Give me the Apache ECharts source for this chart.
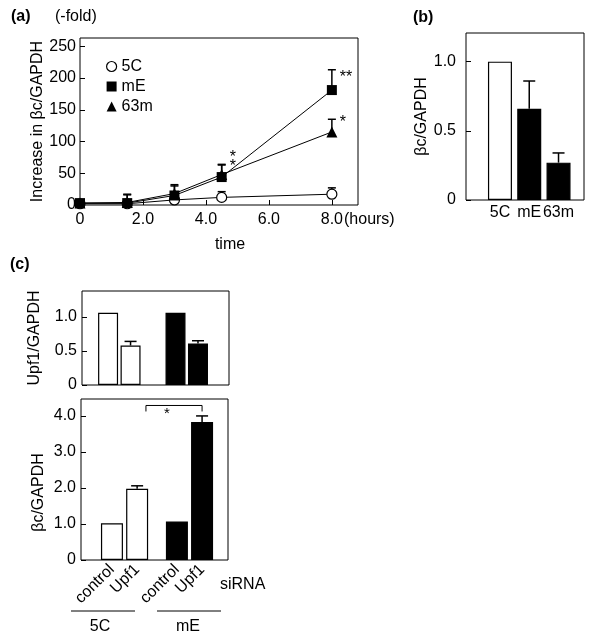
<!DOCTYPE html>
<html><head><meta charset="utf-8">
<script src="https://cdn.jsdelivr.net/npm/echarts@6/dist/echarts.min.js"></script>
<style>html,body{margin:0;padding:0;background:#fff}#c{width:600px;height:640px}</style>
</head><body><div id="c"></div>
<script>
// ---------- data ----------
// (a) time course
const aTime = [0, 1.5, 3, 4.5, 8];
const a5C = [2, 2, 8, 12, 17];
const a5CErr = [4, 5, 10, 21, 27];
const amE = [3, 3, 15, 44, 181];
const amEErr = [5, 16, 30, 63, 213];
const a63m = [3, 4, 18, 48, 115];
const a63mErr = [5, 17, 32, 64, 135];
const aStars = [[4.5, 74, '*'], [4.5, 61, '*'], [8, 200, '**'], [8, 130, '*']];
const aXTicks = [0, 2, 4, 6, 8];
const aXTickLabels = ['0', '2.0', '4.0', '6.0', '8.0'];
const aYTicks = [0, 50, 100, 150, 200, 250];
// (b)
const bCats = ['5C', 'mE', '63m'];
const bVals = [1.0, 0.66, 0.27];
const bErr = [null, 0.86, 0.34];
const bYTicks = [0, 0.5, 1.0];
// (c)
const cCats = ['control', 'Upf1', 'control', 'Upf1'];
const cGroups = ['5C', '5C', 'mE', 'mE'];
const cUpf1 = [1.06, 0.58, 1.06, 0.61];
const cUpf1Err = [null, 0.64, null, 0.65];
const cBc = [1.02, 1.98, 1.07, 3.83];
const cBcErr = [null, 2.06, null, 4.0];
const cTopYTicks = [0, 0.5, 1.0];
const cBotYTicks = [0, 1.0, 2.0, 3.0, 4.0];

// ---------- helpers ----------
const FONT = "'Liberation Sans', Arial, sans-serif";
const FS = 16;
const fmt1 = v => (v === 0 ? '0' : v.toFixed(1));
function errSeries(xi, yi, data, capW) {
  return {
    type: 'custom', xAxisIndex: xi, yAxisIndex: yi, z: 3,
    dimensions: ['x', 'y', 't'], encode: { x: 0, y: [1, 2] },
    data: data,
    renderItem: function (params, api) {
      const p0 = api.coord([api.value(0), api.value(1)]);
      const p1 = api.coord([api.value(0), api.value(2)]);
      return { type: 'group', children: [
        { type: 'line', shape: { x1: p0[0], y1: p0[1], x2: p1[0], y2: p1[1] }, style: { stroke: '#000', lineWidth: 1.5 } },
        { type: 'line', shape: { x1: p1[0] - capW / 2, y1: p1[1], x2: p1[0] + capW / 2, y2: p1[1] }, style: { stroke: '#000', lineWidth: 1.5 } }
      ] };
    }
  };
}
function groupColor(g) { return g === '5C' ? '#fff' : '#000'; }
// x positions of the four (c) bars: two groups separated by a gap
function cPos(i, gap) { return i + (i >= 2 ? gap : 0); }

const axisLabelStyle = { color: '#000', fontSize: FS, fontFamily: FONT };
function yAxisCommon(gi, min, max, ticks, name, gap, margin, pad) {
  return {
    type: 'value', gridIndex: gi, min: min, max: max,
    axisLine: { show: false, onZero: false }, splitLine: { show: false },
    axisTick: { show: true, inside: true, length: 5, customValues: ticks, lineStyle: { color: '#000' } },
    axisLabel: Object.assign({ customValues: ticks, formatter: v => (gi === 0 ? String(v) : fmt1(v)), margin: margin }, axisLabelStyle),
    name: name, nameLocation: 'middle', nameRotate: 90, nameGap: gap,
    nameTextStyle: { color: '#000', fontSize: FS, fontFamily: FONT, padding: pad || 0 }
  };
}

const cTopGap = 1.0, cBotGap = 0.58;

const option = {
  animation: false,
  backgroundColor: '#fff',
  textStyle: { fontFamily: FONT },
  grid: [
    { left: 80, top: 38, width: 278, height: 167, show: true, borderColor: '#000', borderWidth: 1, backgroundColor: 'transparent' },
    { left: 466, top: 33, width: 118, height: 167, show: true, borderColor: '#000', borderWidth: 1, backgroundColor: 'transparent' },
    { left: 82, top: 291, width: 147, height: 94, show: true, borderColor: '#000', borderWidth: 1, backgroundColor: 'transparent' },
    { left: 81, top: 399, width: 147, height: 161, show: true, borderColor: '#000', borderWidth: 1, backgroundColor: 'transparent' }
  ],
  xAxis: [
    { type: 'value', gridIndex: 0, min: 0, max: 8.83,
      axisLine: { show: false, onZero: false }, splitLine: { show: false },
      axisTick: { show: true, inside: true, length: 5, customValues: aXTicks, lineStyle: { color: '#000' } },
      axisLabel: Object.assign({ customValues: aXTicks, formatter: v => aXTickLabels[aXTicks.indexOf(v)], margin: 7 }, axisLabelStyle) },
    { type: 'value', gridIndex: 1, min: -1.16, max: 2.87,
      axisLine: { show: false, onZero: false }, splitLine: { show: false }, axisTick: { show: false },
      axisLabel: Object.assign({ customValues: [0, 1, 2], formatter: v => bCats[Math.round(v)], margin: 5 }, axisLabelStyle) },
    { type: 'value', gridIndex: 2, min: -1.16, max: 5.38,
      axisLine: { show: false, onZero: false }, splitLine: { show: false }, axisTick: { show: false }, axisLabel: { show: false } },
    { type: 'value', gridIndex: 3, min: -1.23, max: 4.61,
      axisLine: { show: false, onZero: false }, splitLine: { show: false }, axisTick: { show: false },
      axisLabel: Object.assign({ customValues: cCats.map((_, i) => cPos(i, cBotGap)), rotate: 45, margin: 7,
        formatter: v => { const i = [0, 1, 2, 3].find(k => Math.abs(cPos(k, cBotGap) - v) < 1e-6); return cCats[i]; } }, axisLabelStyle) }
  ],
  yAxis: [
    yAxisCommon(0, 0, 263, aYTicks, 'Increase in βc/GAPDH', 30, 4),
    yAxisCommon(1, 0, 1.207, bYTicks, 'βc/GAPDH', 34, 10),
    yAxisCommon(2, 0, 1.38, cTopYTicks, 'Upf1/GAPDH', 39, 5),
    yAxisCommon(3, 0, 4.47, cBotYTicks, 'βc/GAPDH', 34, 5, [0, 26, 0, 0])
  ],
  legend: {
    orient: 'vertical', left: 101, top: 53, itemWidth: 10, itemHeight: 10, itemGap: 3,
    textStyle: { color: '#000', fontSize: FS, fontFamily: FONT, lineHeight: 17 },
    data: [
      { name: '5C', icon: 'circle', itemStyle: { color: '#fff', borderColor: '#000', borderWidth: 1.2 } },
      { name: 'mE', icon: 'rect', itemStyle: { color: '#000' } },
      { name: '63m', icon: 'triangle', itemStyle: { color: '#000' } }
    ]
  },
  series: [
    errSeries(0, 0, aTime.map((t, i) => [t, a5C[i], a5CErr[i]]), 8),
    errSeries(0, 0, aTime.map((t, i) => [t, amE[i], amEErr[i]]), 8),
    errSeries(0, 0, aTime.map((t, i) => [t, a63m[i], a63mErr[i]]), 8),
    { name: '5C', type: 'line', xAxisIndex: 0, yAxisIndex: 0, z: 5, clip: false,
      data: aTime.map((t, i) => [t, a5C[i]]), symbol: 'circle', symbolSize: 10,
      lineStyle: { color: '#000', width: 1 }, itemStyle: { color: '#fff', borderColor: '#000', borderWidth: 1.2 } },
    { name: 'mE', type: 'line', xAxisIndex: 0, yAxisIndex: 0, z: 5, clip: false,
      data: aTime.map((t, i) => [t, amE[i]]), symbol: 'rect', symbolSize: 10,
      lineStyle: { color: '#000', width: 1 }, itemStyle: { color: '#000' } },
    { name: '63m', type: 'line', xAxisIndex: 0, yAxisIndex: 0, z: 5, clip: false,
      data: aTime.map((t, i) => [t, a63m[i]]), symbol: 'triangle', symbolSize: 11,
      lineStyle: { color: '#000', width: 1 }, itemStyle: { color: '#000' } },
    { type: 'custom', xAxisIndex: 0, yAxisIndex: 0, z: 6,
      dimensions: ['x', 'y', 's'], encode: { x: 0, y: 1 }, data: aStars,
      renderItem: function (params, api) {
        const p = api.coord([api.value(0), api.value(1)]);
        return { type: 'text', x: p[0] + 8, y: p[1], style: { text: aStars[params.dataIndex][2], fill: '#000', font: '16px ' + FONT, textAlign: 'left', textVerticalAlign: 'middle' } };
      } },
    // (b)
    errSeries(1, 1, bVals.map((v, i) => [i, v, bErr[i]]).filter(d => d[2] != null), 12),
    { type: 'bar', xAxisIndex: 1, yAxisIndex: 1, barWidth: 24, z: 2,
      data: bVals.map((v, i) => ({ value: [i, v], itemStyle: { color: groupColor(bCats[i]), borderColor: '#000', borderWidth: 1.2 } })) },
    // (c) top
    errSeries(2, 2, cUpf1.map((v, i) => [cPos(i, cTopGap), v, cUpf1Err[i]]).filter(d => d[2] != null), 12),
    { type: 'bar', xAxisIndex: 2, yAxisIndex: 2, barWidth: 20, z: 2,
      data: cUpf1.map((v, i) => ({ value: [cPos(i, cTopGap), v], itemStyle: { color: groupColor(cGroups[i]), borderColor: '#000', borderWidth: 1.2 } })) },
    // (c) bottom
    errSeries(3, 3, cBc.map((v, i) => [cPos(i, cBotGap), v, cBcErr[i]]).filter(d => d[2] != null), 12),
    { type: 'bar', xAxisIndex: 3, yAxisIndex: 3, barWidth: 22, z: 2,
      data: cBc.map((v, i) => ({ value: [cPos(i, cBotGap), v], itemStyle: { color: groupColor(cGroups[i]), borderColor: '#000', borderWidth: 1.2 } })) },
    // significance bracket between the two Upf1 siRNA bars
    { type: 'custom', xAxisIndex: 3, yAxisIndex: 3, z: 6,
      dimensions: ['x1', 'x2', 'y'], encode: { x: [0, 1], y: 2 },
      data: [[cPos(1, cBotGap) + 0.35, cPos(3, cBotGap), 4.29]],
      renderItem: function (params, api) {
        const a = api.coord([api.value(0), api.value(2)]);
        const b = api.coord([api.value(1), api.value(2)]);
        const leg = 6;
        return { type: 'group', children: [
          { type: 'polyline', shape: { points: [[a[0], a[1] + leg], a, b, [b[0], b[1] + leg]] }, style: { stroke: '#000', lineWidth: 1, fill: null } },
          { type: 'text', x: (a[0] + b[0]) / 2 - 7, y: a[1] + 8, style: { text: '*', fill: '#000', font: '15px ' + FONT, textAlign: 'center', textVerticalAlign: 'middle' } }
        ] };
      } }
  ],
  graphic: [
    { type: 'text', left: 11, top: 9, style: { text: '(a)', font: 'bold 16px ' + FONT, fill: '#000' } },
    { type: 'text', left: 55, top: 9, style: { text: '(-fold)', font: '16px ' + FONT, fill: '#000' } },
    { type: 'text', left: 413, top: 10, style: { text: '(b)', font: 'bold 16px ' + FONT, fill: '#000' } },
    { type: 'text', left: 10, top: 257, style: { text: '(c)', font: 'bold 16px ' + FONT, fill: '#000' } },
    { type: 'text', x: 230, y: 245, style: { text: 'time', font: '16px ' + FONT, fill: '#000', textAlign: 'center', textVerticalAlign: 'middle' } },
    { type: 'text', x: 344, y: 220, style: { text: '(hours)', font: '16px ' + FONT, fill: '#000', textAlign: 'left', textVerticalAlign: 'middle' } },
    { type: 'text', x: 220, y: 585, style: { text: 'siRNA', font: '16px ' + FONT, fill: '#000', textAlign: 'left', textVerticalAlign: 'middle' } },
    { type: 'line', shape: { x1: 71, y1: 611, x2: 135, y2: 611 }, style: { stroke: '#000', lineWidth: 1 } },
    { type: 'line', shape: { x1: 157, y1: 611, x2: 221, y2: 611 }, style: { stroke: '#000', lineWidth: 1 } },
    { type: 'text', x: 100, y: 627, style: { text: cGroups[0], font: '16px ' + FONT, fill: '#000', textAlign: 'center', textVerticalAlign: 'middle' } },
    { type: 'text', x: 188, y: 627, style: { text: cGroups[2], font: '16px ' + FONT, fill: '#000', textAlign: 'center', textVerticalAlign: 'middle' } }
  ]
};
const chart = echarts.init(document.getElementById('c'), null, { renderer: 'canvas' });
chart.setOption(option);
</script></body></html>
